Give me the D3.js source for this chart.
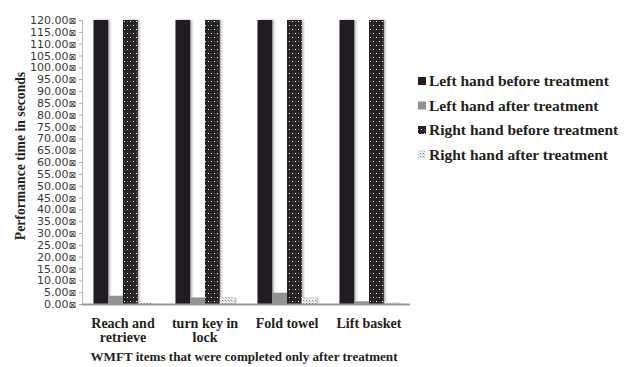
<!DOCTYPE html>
<html><head><meta charset="utf-8">
<script src="https://cdnjs.cloudflare.com/ajax/libs/d3/7.8.5/d3.min.js"></script>
<style>body{margin:0;background:#fff}svg{display:block}</style>
</head><body>
<script>
const categories = [["Reach and","retrieve"],["turn key in","lock"],["Fold towel"],["Lift basket"]];
const seriesNames = ["Left hand before treatment","Left hand after treatment","Right hand before treatment","Right hand after treatment"];
const leftBefore = [120,120,120,120];
const leftAfter = [3.4,2.7,4.7,1.1];
const rightBefore = [120,120,120,120];
const rightAfter = [0.4,2.7,2.5,0.7];
const yTicks = d3.range(0,121,5);

const W=631,H=367;
const m={l:82,r:221,t:20,b:63};
const serif="'Liberation Serif', 'Times New Roman', Times, serif";
const svg=d3.select("body").append("svg").attr("width",W).attr("height",H);
const defs=svg.append("defs");
const p1=defs.append("pattern").attr("id","rb").attr("patternUnits","userSpaceOnUse").attr("width",6).attr("height",8);
p1.append("rect").attr("width",6).attr("height",8).attr("fill","#262324");
p1.append("rect").attr("x",1).attr("y",1).attr("width",1).attr("height",1).attr("fill","#fff");
p1.append("rect").attr("x",4).attr("y",5).attr("width",1).attr("height",1).attr("fill","#fff");
p1.append("rect").attr("x",4).attr("y",1).attr("width",1).attr("height",1).attr("fill","#666");
p1.append("rect").attr("x",1).attr("y",5).attr("width",1).attr("height",1).attr("fill","#666");
const p2=defs.append("pattern").attr("id","ra").attr("patternUnits","userSpaceOnUse").attr("width",3).attr("height",3);
p2.append("rect").attr("width",3).attr("height",3).attr("fill","#eee");
p2.append("rect").attr("x",0).attr("y",0).attr("width",1).attr("height",1).attr("fill","#777");
p2.append("rect").attr("x",1).attr("y",1).attr("width",1).attr("height",1).attr("fill","#bbb");
const f=defs.append("filter").attr("id","sh").attr("x","-20%").attr("y","-5%").attr("width","160%").attr("height","110%");
f.append("feDropShadow").attr("dx",1.5).attr("dy",0).attr("stdDeviation",0.8).attr("flood-color","#000").attr("flood-opacity",0.35);

const x0=d3.scaleBand().domain(d3.range(categories.length)).range([m.l,W-m.r]).paddingInner(0.28).paddingOuter(0.14);
const x1=d3.scaleBand().domain(d3.range(4)).range([0,x0.bandwidth()]);
const y=d3.scaleLinear().domain([0,120]).range([H-m.b,m.t]);
const fills=["#231f20","#929292","url(#rb)","url(#ra)"];
const series=[leftBefore,leftAfter,rightBefore,rightAfter];

// y axis
const ya=svg.append("g").attr("transform",`translate(${m.l},0)`)
  .call(d3.axisLeft(y).tickValues(yTicks).tickSize(3).tickPadding(3).tickFormat(d=>d3.format(".2f")(d)));
ya.select(".domain").attr("stroke","#bbb");
ya.selectAll(".tick line").attr("stroke","#aaa");
ya.selectAll(".tick text").attr("font-family","'DejaVu Sans', Verdana, sans-serif").attr("font-size",11).attr("fill","#3a3a3a")
  .text(null).call(t=>{t.append("tspan").text(d=>d3.format(".2f")(d));t.append("tspan").attr("font-size",9).text("\u22A0");});

// bars
const g=svg.append("g");
categories.forEach((c,i)=>{
  series.forEach((s,j)=>{
    g.append("rect").attr("x",x0(i)+x1(j)).attr("width",x1.bandwidth()).attr("y",y(s[i])).attr("height",y(0)-y(s[i]))
     .attr("fill",fills[j]).attr("filter","url(#sh)");
  });
});
// x axis line
svg.append("line").attr("x1",m.l).attr("x2",W-m.r).attr("y1",y(0)+0.5).attr("y2",y(0)+0.5).attr("stroke","#999").attr("stroke-width",2);

// category labels
categories.forEach((c,i)=>{
  const t=svg.append("text").attr("x",x0(i)+x0.bandwidth()/2).attr("y",328).attr("text-anchor","middle")
   .attr("font-family",serif).attr("font-weight","bold").attr("font-size",14).attr("fill","#231f20");
  c.forEach((line,k)=>t.append("tspan").attr("x",x0(i)+x0.bandwidth()/2).attr("dy",k?14:0).text(line));
});
svg.append("text").attr("x",244).attr("y",361).attr("text-anchor","middle")
  .attr("font-family",serif).attr("font-weight","bold").attr("font-size",13.1).attr("fill","#231f20")
  .text("WMFT items that were completed only after treatment");
svg.append("text").attr("transform",`translate(25,156) rotate(-90)`).attr("text-anchor","middle")
  .attr("font-family",serif).attr("font-weight","bold").attr("font-size",13.7).attr("fill","#231f20")
  .text("Performance time in seconds");

// legend
const lg=svg.append("g");
seriesNames.forEach((n,j)=>{
  const yy=81+j*24.5;
  lg.append("rect").attr("x",418).attr("y",yy-4).attr("width",8).attr("height",8).attr("fill",fills[j]);
  lg.append("text").attr("x",429).attr("y",yy+5).attr("font-family",serif)
   .attr("font-weight","bold").attr("font-size",15.5).attr("fill","#231f20").text(n);
});
</script>
</body></html>
